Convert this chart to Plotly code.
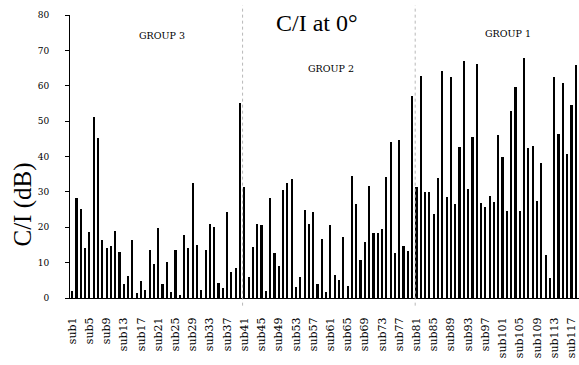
import plotly.graph_objects as go

subjects = list(range(1, 120))
ci_db = [
    2, 28.4, 25.1, 14, 18.6, 51.2, 45.2, 16.4, 14, 14.7,
    19, 13, 4.1, 6.1, 16.4, 1.4, 4.8, 2.2, 13.7, 9.7,
    19.9, 4.1, 10.2, 1.6, 13.7, 0.8, 17.9, 14, 32.5, 15,
    2.3, 13.7, 20.8, 20.2, 4.2, 2.8, 24.4, 7.3, 8.5, 55,
    31.3, 5.9, 14.3, 20.8, 20.6, 2, 28.3, 12.6, 9.1, 30.6,
    32.5, 33.6, 3.1, 5.8, 24.9, 20.8, 24.3, 3.9, 16.6, 1.6,
    20.5, 6.4, 5.1, 17.3, 3.5, 34.4, 26.6, 10.8, 15.9, 31.6,
    18.5, 18.5, 19.6, 34.2, 44.2, 12.8, 44.8, 14.8, 13.2, 57.2,
    31.4, 62.7, 30, 30, 23.7, 33.8, 64.3, 28.5, 62.4, 26.5,
    42.8, 66.9, 30.8, 45.5, 66.2, 26.9, 25.6, 28.9, 27.2, 46,
    39.9, 24.5, 53, 59.7, 24.5, 67.9, 42.5, 43.1, 27.5, 38.3,
    12.1, 5.7, 62.6, 46.4, 60.8, 40.6, 54.5, 66, 33.3,
]
tick_vals = list(range(1, 118, 4))
tick_text = [f"sub{i}" for i in tick_vals]
group_dividers = [40.6, 80.7]
group_labels = ["GROUP 3", "GROUP 2", "GROUP 1"]
group_pos = [(0.181, 0.929), (0.513, 0.812), (0.861, 0.934)]

fig = go.Figure()
fig.add_trace(go.Bar(x=subjects, y=ci_db, width=0.5,
                     marker=dict(color="black", line=dict(width=0)),
                     showlegend=False))

for xd in group_dividers:
    fig.add_shape(type="line", xref="x", yref="paper", x0=xd, x1=xd,
                  y0=-0.027, y1=1.034,
                  line=dict(color="#b8b8b8", width=1, dash="dot"))

for txt, (px, py) in zip(group_labels, group_pos):
    fig.add_annotation(text=txt, xref="paper", yref="paper", x=px, y=py,
                       showarrow=False, xanchor="center", yanchor="middle",
                       font=dict(family="DejaVu Serif", size=9.5, color="black"))

fig.add_annotation(text="C/I at 0°", xref="paper", yref="paper", x=0.485, y=0.972,
                   showarrow=False, xanchor="center", yanchor="middle",
                   font=dict(family="Liberation Serif", size=24, color="black"))
fig.add_annotation(text="C/I (dB)", xref="paper", yref="paper", x=-0.092, y=0.331,
                   showarrow=False, xanchor="center", yanchor="middle", textangle=-90,
                   font=dict(family="Liberation Serif", size=25, color="black"))

fig.update_layout(
    width=579, height=365,
    margin=dict(l=70, r=0, t=15, b=67),
    paper_bgcolor="white", plot_bgcolor="white",
    bargap=0,
    xaxis=dict(range=[0.5, 118.76], tickvals=tick_vals, ticktext=tick_text,
               tickangle=-90, showgrid=False, zeroline=False,
               showline=True, linecolor="black", linewidth=1,
               ticks="", ticklabelstandoff=14,
               tickfont=dict(family="DejaVu Serif", size=11, color="black")),
    yaxis=dict(range=[0, 80], tickvals=list(range(0, 81, 10)),
               showgrid=False, zeroline=False,
               showline=True, linecolor="black", linewidth=1,
               ticks="outside", ticklen=4, tickcolor="black",
               ticklabelstandoff=14,
               tickfont=dict(family="DejaVu Serif", size=9, color="black")),
)

fig.write_html("out.html")
